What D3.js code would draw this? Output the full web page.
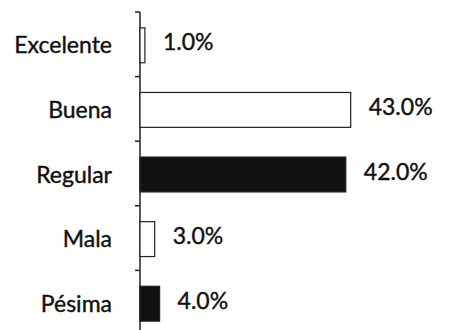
<!DOCTYPE html>
<html><head><meta charset="utf-8">
<script src="https://cdn.jsdelivr.net/npm/d3@7"></script>
<style>html,body{margin:0;padding:0;background:#fff;}svg{display:block;}</style>
</head><body>
<svg id="chart" width="457" height="330"></svg>
<script>
const categories = ["Excelente", "Buena", "Regular", "Mala", "Pésima"];
const values = [1.0, 43.0, 42.0, 3.0, 4.0];
const valueLabels = ["1.0%", "43.0%", "42.0%", "3.0%", "4.0%"];
const fills = ["#ffffff", "#ffffff", "#111111", "#ffffff", "#111111"];

const svg = d3.select("#chart");
const font = "Lato, 'Open Sans', sans-serif";
const x0 = 140;
const x = d3.scaleLinear().domain([0, 50]).range([x0, x0 + 245]);
const y = d3.scaleBand().domain(categories).range([12, 335]).paddingInner(0.46).paddingOuter(0.23);
const yTicks = d3.scaleBand().domain(categories).range([12, 335]);
const color = d3.scaleOrdinal().domain(categories).range(fills);

svg.append("line").attr("x1", x0).attr("x2", x0).attr("y1", 12).attr("y2", 330)
  .attr("stroke", "#222").attr("stroke-width", 1.5);
svg.selectAll(".tk").data(categories).enter().append("line")
  .attr("x1", x0 - 5).attr("x2", x0)
  .attr("y1", d => yTicks(d)).attr("y2", d => yTicks(d))
  .attr("stroke", "#222").attr("stroke-width", 1.5);

svg.selectAll(".cat").data(categories).enter().append("text")
  .attr("x", 112).attr("y", d => y(d) + y.bandwidth() / 2)
  .attr("text-anchor", "end").attr("dominant-baseline", "central")
  .attr("font-family", font).attr("font-size", 23).attr("fill", "#111")
  .attr("stroke", "#111").attr("stroke-width", 0.4)
  .text(d => d);

const rows = categories.map((c, i) => ({c, v: values[i], lab: valueLabels[i]}));

svg.selectAll(".bar").data(rows).enter().append("rect")
  .attr("x", x(0)).attr("y", d => y(d.c) + 1)
  .attr("width", d => x(d.v) - x(0)).attr("height", y.bandwidth())
  .attr("fill", d => color(d.c)).attr("stroke", "#222").attr("stroke-width", 1.2);

svg.selectAll(".val").data(rows).enter().append("text")
  .attr("x", d => x(d.v) + 18).attr("y", d => y(d.c) + y.bandwidth() / 2 - 3)
  .attr("dominant-baseline", "central")
  .attr("font-family", font).attr("font-size", 23).attr("fill", "#111")
  .attr("stroke", "#111").attr("stroke-width", 0.4)
  .text(d => d.lab);
</script>
</body></html>
